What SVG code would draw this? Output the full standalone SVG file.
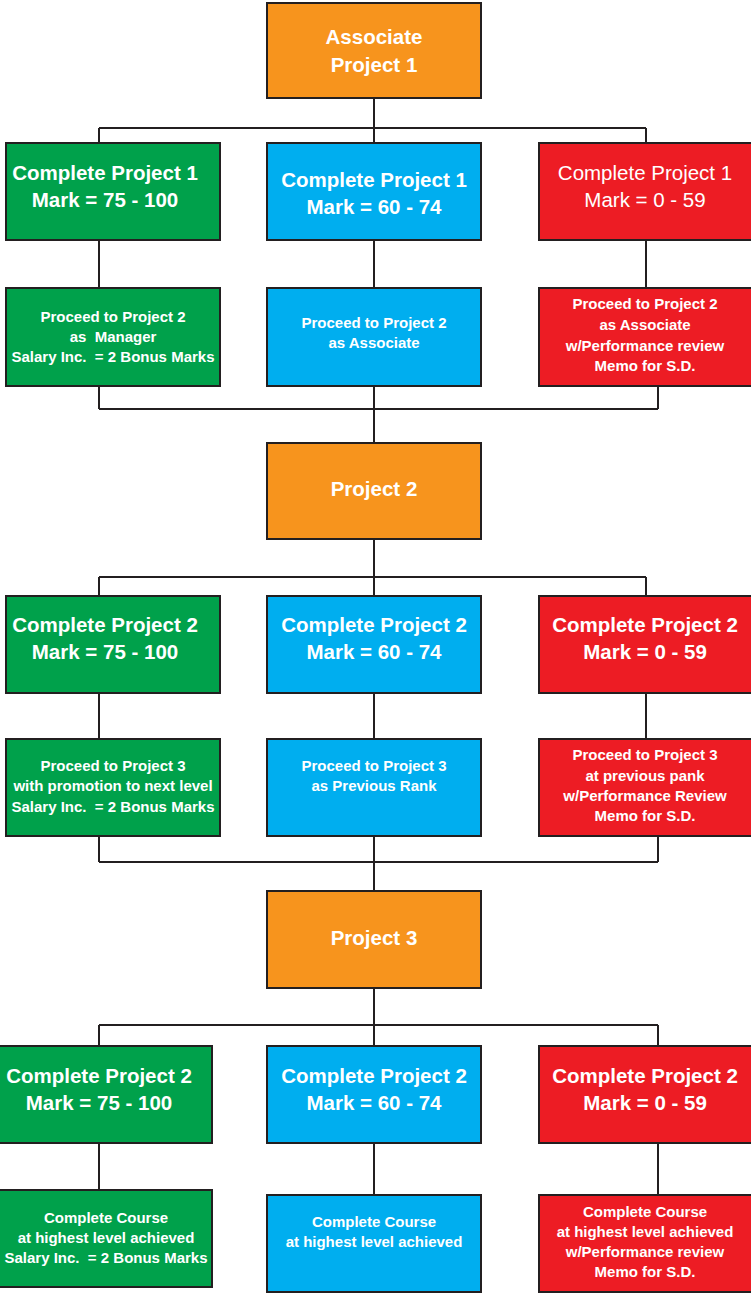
<svg xmlns="http://www.w3.org/2000/svg" width="751" height="1293" viewBox="0 0 751 1293">
  <style>
    .box { stroke: #231f20; stroke-width: 2; }
    .orange { fill: #f7941d; }
    .green { fill: #00a14b; }
    .blue { fill: #00aeef; }
    .red { fill: #ed1c24; }
    text { fill: #ffffff; font-family: "Liberation Sans", Arial, sans-serif; text-anchor: middle; white-space: pre; }
    .t { font-size: 20.5px; font-weight: bold; }
    .tr { font-size: 20.5px; font-weight: normal; }
    .s { font-size: 15px; font-weight: bold; }
    .conn { fill: none; stroke: #231f20; stroke-width: 2; }
  </style>

  <!-- connectors -->
  <g id="connectors" class="conn">
    <path d="M374 98 V128 M99 128 H646 M99 128 V143 M374 128 V143 M646 128 V143"/>
    <path d="M99 240 V288 M374 240 V288 M646 240 V288"/>
    <path d="M99 386 V409 M374 386 V443 M658 386 V409 M99 409 H658"/>
    <path d="M374 539 V577 M99 577 H646 M99 577 V596 M374 577 V596 M646 577 V596"/>
    <path d="M99 693 V739 M374 693 V739 M646 693 V739"/>
    <path d="M99 836 V862 M374 836 V891 M658 836 V862 M99 862 H658"/>
    <path d="M374 988 V1025 M99 1025 H658 M99 1025 V1046 M374 1025 V1046 M658 1025 V1046"/>
    <path d="M99 1143 V1190 M374 1143 V1195 M658 1143 V1195"/>
  </g>

  <!-- level 0 -->
  <g id="associate-project-1">
    <rect class="box orange" x="267" y="3" width="214" height="95"/>
    <text class="t" x="374" y="44">Associate</text>
    <text class="t" x="374" y="72">Project 1</text>
  </g>

  <!-- project 1 results -->
  <g id="p1-high">
    <rect class="box green" x="6" y="143" width="214" height="97"/>
    <text class="t" x="105" y="180">Complete Project 1</text>
    <text class="t" x="105" y="207">Mark = 75 - 100</text>
  </g>
  <g id="p1-mid">
    <rect class="box blue" x="267" y="143" width="214" height="97"/>
    <text class="t" x="374" y="187">Complete Project 1</text>
    <text class="t" x="374" y="214">Mark = 60 - 74</text>
  </g>
  <g id="p1-low">
    <rect class="box red" x="539" y="143" width="214" height="97"/>
    <text class="tr" x="645" y="180">Complete Project 1</text>
    <text class="tr" x="645" y="207">Mark = 0 - 59</text>
  </g>

  <g id="p1-high-next">
    <rect class="box green" x="6" y="288" width="214" height="98"/>
    <text class="s" x="113" y="321.5">Proceed to Project 2</text>
    <text class="s" x="113" y="341.5">as  Manager</text>
    <text class="s" x="113" y="361.5">Salary Inc.  = 2 Bonus Marks</text>
  </g>
  <g id="p1-mid-next">
    <rect class="box blue" x="267" y="288" width="214" height="98"/>
    <text class="s" x="374" y="327.5">Proceed to Project 2</text>
    <text class="s" x="374" y="347.5">as Associate</text>
  </g>
  <g id="p1-low-next">
    <rect class="box red" x="539" y="288" width="214" height="98"/>
    <text class="s" x="645" y="308.5">Proceed to Project 2</text>
    <text class="s" x="645" y="329.5">as Associate</text>
    <text class="s" x="645" y="350.5">w/Performance review</text>
    <text class="s" x="645" y="370.5">Memo for S.D.</text>
  </g>

  <!-- project 2 -->
  <g id="project-2">
    <rect class="box orange" x="267" y="443" width="214" height="96"/>
    <text class="t" x="374" y="496">Project 2</text>
  </g>

  <g id="p2-high">
    <rect class="box green" x="6" y="596" width="214" height="97"/>
    <text class="t" x="105" y="632">Complete Project 2</text>
    <text class="t" x="105" y="659">Mark = 75 - 100</text>
  </g>
  <g id="p2-mid">
    <rect class="box blue" x="267" y="596" width="214" height="97"/>
    <text class="t" x="374" y="632">Complete Project 2</text>
    <text class="t" x="374" y="659">Mark = 60 - 74</text>
  </g>
  <g id="p2-low">
    <rect class="box red" x="539" y="596" width="214" height="97"/>
    <text class="t" x="645" y="632">Complete Project 2</text>
    <text class="t" x="645" y="659">Mark = 0 - 59</text>
  </g>

  <g id="p2-high-next">
    <rect class="box green" x="6" y="739" width="214" height="97"/>
    <text class="s" x="113" y="771">Proceed to Project 3</text>
    <text class="s" x="113" y="791">with promotion to next level</text>
    <text class="s" x="113" y="812">Salary Inc.  = 2 Bonus Marks</text>
  </g>
  <g id="p2-mid-next">
    <rect class="box blue" x="267" y="739" width="214" height="97"/>
    <text class="s" x="374" y="771">Proceed to Project 3</text>
    <text class="s" x="374" y="791">as Previous Rank</text>
  </g>
  <g id="p2-low-next">
    <rect class="box red" x="539" y="739" width="214" height="97"/>
    <text class="s" x="645" y="759.5">Proceed to Project 3</text>
    <text class="s" x="645" y="780.5">at previous pank</text>
    <text class="s" x="645" y="800.5">w/Performance Review</text>
    <text class="s" x="645" y="820.5">Memo for S.D.</text>
  </g>

  <!-- project 3 -->
  <g id="project-3">
    <rect class="box orange" x="267" y="891" width="214" height="97"/>
    <text class="t" x="374" y="945">Project 3</text>
  </g>

  <g id="p3-high">
    <rect class="box green" x="-2" y="1046" width="214" height="97"/>
    <text class="t" x="99" y="1083">Complete Project 2</text>
    <text class="t" x="99" y="1110">Mark = 75 - 100</text>
  </g>
  <g id="p3-mid">
    <rect class="box blue" x="267" y="1046" width="214" height="97"/>
    <text class="t" x="374" y="1083">Complete Project 2</text>
    <text class="t" x="374" y="1110">Mark = 60 - 74</text>
  </g>
  <g id="p3-low">
    <rect class="box red" x="539" y="1046" width="214" height="97"/>
    <text class="t" x="645" y="1083">Complete Project 2</text>
    <text class="t" x="645" y="1110">Mark = 0 - 59</text>
  </g>

  <g id="p3-high-end">
    <rect class="box green" x="-2" y="1190" width="214" height="97"/>
    <text class="s" x="106" y="1222.5">Complete Course</text>
    <text class="s" x="106" y="1242.5">at highest level achieved</text>
    <text class="s" x="106" y="1262.5">Salary Inc.  = 2 Bonus Marks</text>
  </g>
  <g id="p3-mid-end">
    <rect class="box blue" x="267" y="1195" width="214" height="97"/>
    <text class="s" x="374" y="1227">Complete Course</text>
    <text class="s" x="374" y="1247">at highest level achieved</text>
  </g>
  <g id="p3-low-end">
    <rect class="box red" x="539" y="1195" width="214" height="97"/>
    <text class="s" x="645" y="1216.5">Complete Course</text>
    <text class="s" x="645" y="1236.5">at highest level achieved</text>
    <text class="s" x="645" y="1256.5">w/Performance review</text>
    <text class="s" x="645" y="1276.5">Memo for S.D.</text>
  </g>
</svg>
